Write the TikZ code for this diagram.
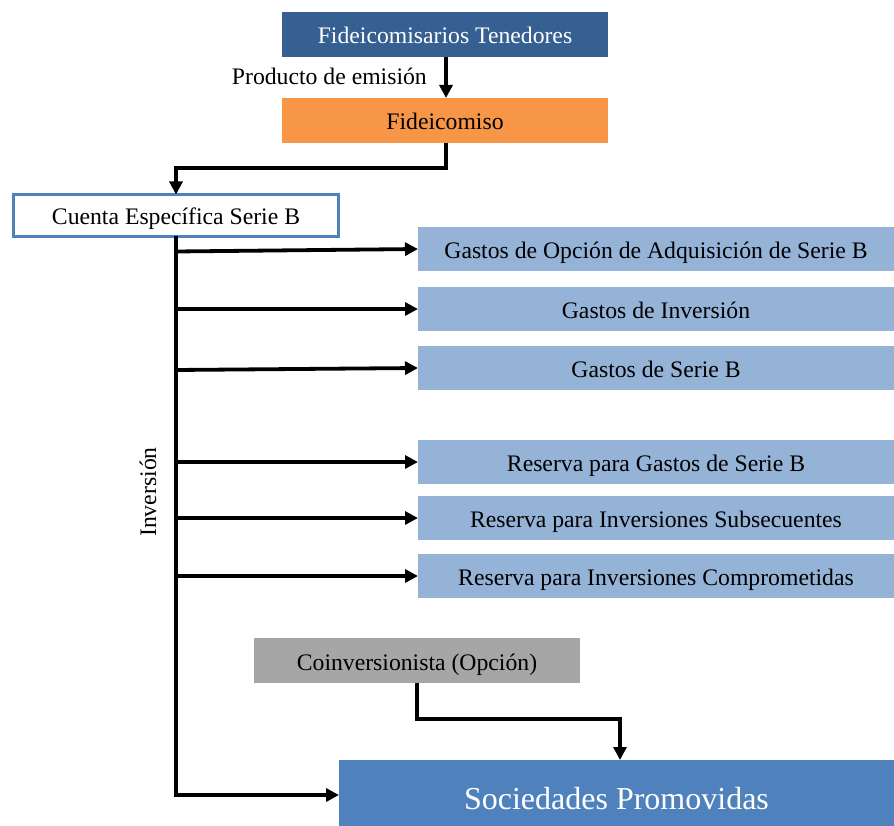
\documentclass[tikz,border=0pt]{standalone}
\usepackage{fontspec}
\setmainfont{Liberation Serif}
\usetikzlibrary{arrows.meta,calc}
\definecolor{darkblue}{HTML}{366092}
\definecolor{orangefill}{HTML}{F79646}
\definecolor{midblue}{HTML}{4F81BD}
\definecolor{lightblue}{HTML}{95B3D7}
\definecolor{grayfill}{HTML}{A6A6A6}
\tikzset{
  box/.style={anchor=north west,inner sep=0pt,outer sep=0pt,align=center,
    text height=20pt,text depth=1pt,
    font=\fontsize{23.7}{28}\selectfont},
  conn/.style={line width=3.8pt,-{Triangle[length=13pt,width=13pt]}},
  seg/.style={line width=3.8pt},
}
\begin{document}
\begin{tikzpicture}[x=1pt,y=-1pt]
\useasboundingbox (0,0) rectangle (894,826);
% top boxes
\node[box,fill=darkblue,text=white,minimum width=326pt,minimum height=45pt] (fid) at (282,12) {Fideicomisarios Tenedores};
\node[box,fill=orangefill,minimum width=326pt,minimum height=45pt] (fc) at (282,98) {Fideicomiso};
\node[box,draw=midblue,line width=3pt,fill=white,minimum width=325pt,minimum height=42pt] (cta) at (13.5,194.5) {Cuenta Específica Serie B};
% right boxes
\node[box,fill=lightblue,minimum width=476pt,minimum height=44pt] (g1) at (418,227) {Gastos de Opción de Adquisición de Serie B};
\node[box,fill=lightblue,minimum width=476pt,minimum height=44pt] (g2) at (418,287) {Gastos de Inversión};
\node[box,fill=lightblue,minimum width=476pt,minimum height=44pt] (g3) at (418,346) {Gastos de Serie B};
\node[box,fill=lightblue,minimum width=476pt,minimum height=44pt] (r1) at (418,440) {Reserva para Gastos de Serie B};
\node[box,fill=lightblue,minimum width=476pt,minimum height=44pt] (r2) at (418,496) {Reserva para Inversiones Subsecuentes};
\node[box,fill=lightblue,minimum width=476pt,minimum height=44pt] (r3) at (418,554) {Reserva para Inversiones Comprometidas};
% bottom boxes
\node[box,fill=grayfill,minimum width=326pt,minimum height=45pt] (co) at (254,638) {Coinversionista (Opción)};
\node[box,fill=midblue,text=white,minimum width=555pt,minimum height=66pt,text height=32pt,text depth=0pt,font=\fontsize{32}{36}\selectfont] (soc) at (339,760) {Sociedades Promovidas};
% labels
\node[font=\fontsize{23.7}{28}\selectfont,anchor=east,inner sep=0pt] (lbl) at (427,76) {Producto de emisión};
\node[font=\fontsize{23.7}{28}\selectfont,rotate=90,inner sep=0pt] (inv) at (148,492) {Inversión};
% connectors
\draw[conn] (fid.south -| 446,0) -- (fc.north -| 446,0);
\coordinate (k1) at (446,168);
\coordinate (k2) at (176,168);
\draw[conn] (fc.south -| k1) -- (k1) -- (k2) -- (cta.north);
\coordinate (tb) at (176,795);
\draw[seg] (cta.south) -- (tb);
\coordinate (b1) at (176,251.5);
\coordinate (b2) at (176,309);
\coordinate (b3) at (176,370);
\coordinate (b4) at (176,462);
\coordinate (b5) at (176,518);
\coordinate (b6) at (176,576);
\draw[conn] (b1) -- (g1.west);
\draw[conn] (b2) -- (g2.west);
\draw[conn] (b3) -- (g3.west);
\draw[conn] (b4) -- (r1.west);
\draw[conn] (b5) -- (r2.west);
\draw[conn] (b6) -- (r3.west);
\draw[conn] ([xshift=-1.9pt]tb) -- (soc.west |- tb);
\coordinate (c1) at (417,719);
\coordinate (c2) at (620,719);
\draw[conn] (co.south -| c1) -- (c1) -- (c2) -- (soc.north -| c2);
\end{tikzpicture}
\end{document}
